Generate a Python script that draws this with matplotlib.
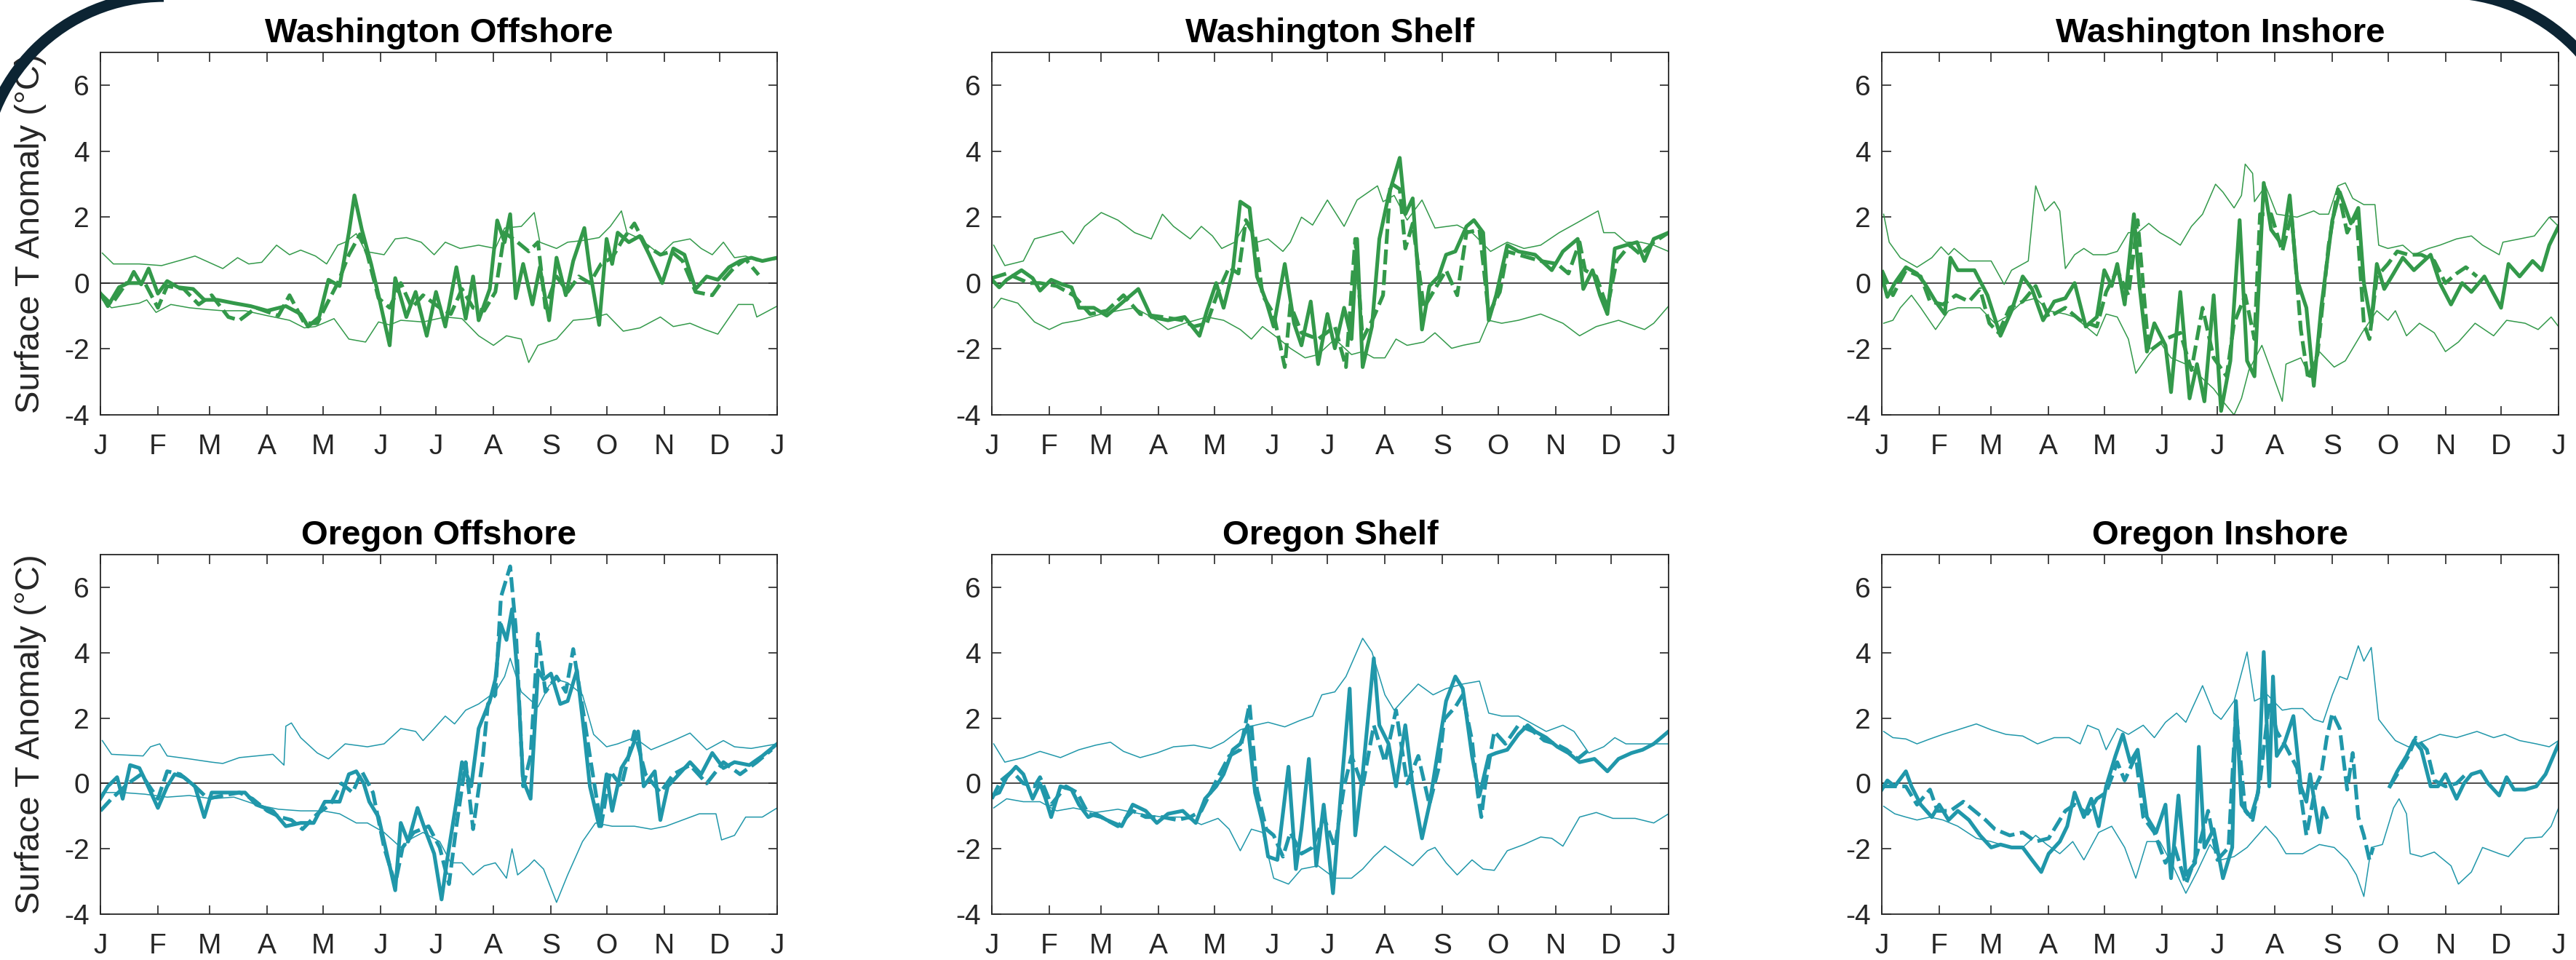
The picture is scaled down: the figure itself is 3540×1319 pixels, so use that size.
import numpy as np
import matplotlib
matplotlib.use('Agg')
import matplotlib.pyplot as plt
from matplotlib.patches import Arc

plt.rcParams['font.family'] = ['Liberation Sans', 'DejaVu Sans']

# month boundaries (day of year) and labels
month_days = [0, 31, 59, 90, 120, 151, 181, 212, 243, 273, 304, 334, 365]
month_labels = ['J', 'F', 'M', 'A', 'M', 'J', 'J', 'A', 'S', 'O', 'N', 'D', 'J']
y_ticks = [-4, -2, 0, 2, 4, 6]

nan = np.nan

# ---- Washington Offshore: (day, anomaly)
wo_hi = [(1,0.91),(7,0.58),(21,0.58),(33,0.53),(45,0.72),(51,0.82),(66,0.44),(74,0.77),(80,0.58),(87,0.63),
         (95,1.15),(102,0.86),(108,1.0),(116,0.82),(122,0.58),(128,1.15),(132,1.24),(138,1.5),(143,0.96),(153,0.86),
         (159,1.34),(165,1.38),(173,1.24),(180,0.86),(186,1.24),(194,1.05),(204,1.15),(213,1.05),(218,1.67),(227,1.72),
         (234,2.14),(237,1.24),(246,1.05),(252,1.24),(260,1.29),(269,1.38),(275,1.72),(281,2.19),(284,1.53),(291,1.34),
         (302,0.86),(309,1.24),(318,1.34),(324,1.05),(330,0.86),(336,1.24),(342,0.77),(348,0.82),(354,0.67),(365,0.72)]
wo_lo = [(1,-0.51),(6,-0.75),(21,-0.61),(25,-0.51),(30,-0.89),(38,-0.65),(48,-0.75),(57,-0.8),(66,-0.84),(78,-0.84),
         (90,-0.99),(102,-1.13),(110,-1.36),(116,-1.32),(126,-1.08),(134,-1.70),(143,-1.79),(150,-1.18),(156,-1.27),(162,-1.13),
         (174,-1.18),(186,-1.03),(195,-1.08),(204,-1.6),(212,-1.89),(219,-1.6),(227,-1.7),(231,-2.41),(236,-1.89),(246,-1.7),
         (255,-1.13),(264,-1.08),(273,-0.94),(282,-1.46),(291,-1.36),(302,-1.03),(309,-1.32),(318,-1.22),(326,-1.41),(333,-1.55),
         (344,-0.65),(352,-0.65),(354,-1.03),(365,-0.70)]
wo_solid = [(0,-0.32),(4,-0.7),(10,-0.13),(15,0.0),(18,0.34),(22,-0.04),(26,0.44),(31,-0.32),(36,0.06),(42,-0.13),
            (50,-0.18),(56,-0.51),(63,-0.51),(72,-0.61),(81,-0.7),(90,-0.84),(100,-0.7),(108,-0.94),(112,-1.32),(118,-1.03),
            (123,0.1),(129,-0.09),(134,1.53),(137,2.66),(141,1.62),(146,0.58),(150,-0.37),(156,-1.89),(159,0.15),(165,-1.03),
            (170,-0.27),(176,-1.6),(181,-0.27),(186,-1.32),(192,0.48),(197,-1.08),(201,0.2),(204,-1.13),(210,-0.18),(214,1.9),
            (218,1.24),(221,2.09),(224,-0.46),(228,0.58),(233,-0.65),(237,0.48),(242,-1.13),(246,0.77),(251,-0.37),(255,0.67),
            (261,1.67),(264,0.39),(269,-1.27),(273,1.34),(276,0.58),(279,1.53),(285,1.24),(291,1.43),(296,0.86),(303,0.0),
            (309,1.05),(315,0.86),(321,-0.18),(327,0.2),(333,0.1),(339,0.48),(345,0.67),(351,0.77),(357,0.67),(365,0.77)]
wo_dash = [(0,-0.32),(6,-0.65),(14,0.0),(24,0.0),(31,-0.75),(36,-0.09),(45,-0.18),(53,-0.65),(60,-0.37),(69,-1.03),
           (75,-1.13),(84,-0.75),(96,-0.99),(102,-0.37),(110,-1.22),(117,-1.22),(122,-0.65),(128,0.0),(134,0.86),(140,1.48),
           (144,0.86),(150,-0.46),(156,-0.75),(162,0.0),(168,-0.75),(174,-0.37),(183,-0.75),(189,-0.94),(195,-0.18),(201,-0.75),
           (207,-0.84),(213,-0.27),(218,1.53),(225,1.24),(231,0.96),(236,1.24),(240,-0.75),(246,0.2),(252,-0.27),(258,0.2),
           (264,0.0),(270,0.58),(276,0.77),(282,1.34),(288,1.81),(294,1.15),(302,0.86),(308,0.96),(314,0.67),(321,-0.27),
           (330,-0.37),(336,0.1),(342,0.48),(348,0.72),(355,0.25)]

# ---- Washington Shelf
ws_hi = [(1,1.15),(7,0.53),(17,0.67),(23,1.34),(29,1.43),(38,1.57),(44,1.19),(50,1.72),(59,2.14),(68,1.91),
         (77,1.53),(86,1.34),(92,2.09),(98,1.72),(107,1.34),(113,1.72),(119,1.43),(124,1.05),(131,1.24),(137,1.81),
         (143,1.24),(149,1.34),(157,0.96),(161,1.24),(167,2.0),(173,1.76),(181,2.52),(190,1.72),(197,2.52),(208,2.95),
         (211,2.47),(217,2.66),(224,1.91),(232,2.52),(239,1.67),(251,1.76),(259,1.53),(269,0.96),(278,1.24),(287,1.05),
         (296,1.15),(306,1.53),(315,1.81),(327,2.19),(330,1.53),(336,1.53),(342,1.24),(350,1.24),(357,1.15),(365,0.96)]
ws_lo = [(1,-0.75),(5,-0.46),(14,-0.61),(23,-1.18),(31,-1.41),(38,-1.22),(47,-1.13),(59,-0.94),(68,-0.84),(77,-0.75),
         (86,-1.03),(95,-1.41),(104,-1.22),(116,-1.03),(125,-1.13),(134,-1.41),(140,-1.7),(146,-1.32),(155,-1.7),(161,-1.98),
         (169,-2.27),(176,-2.17),(185,-1.7),(194,-2.17),(200,-2.08),(206,-2.27),(212,-2.27),(218,-1.7),(224,-1.89),(233,-1.79),
         (239,-1.51),(248,-1.98),(254,-1.89),(263,-1.79),(268,-1.13),(275,-1.22),(284,-1.13),(296,-0.94),(308,-1.22),(317,-1.6),
         (326,-1.32),(338,-1.13),(352,-1.41),(357,-1.22),(365,-0.70)]
ws_solid = [(0,0.1),(4,-0.13),(8,0.1),(16,0.39),(22,0.15),(26,-0.23),(32,0.1),(38,-0.04),(43,-0.13),(47,-0.75),
            (55,-0.75),(62,-0.99),(71,-0.56),(79,-0.18),(86,-1.03),(95,-1.13),(104,-1.03),(112,-1.6),(116,-0.84),(121,0.0),
            (125,-0.75),(130,0.39),(134,2.47),(139,2.28),(143,0.2),(148,-0.56),(152,-1.32),(158,0.58),(163,-1.22),(167,-1.89),
            (172,-0.56),(176,-2.46),(181,-0.94),(185,-1.98),(190,-0.75),(194,-1.7),(197,1.34),(200,-2.55),(205,-1.32),(209,1.34),
            (214,2.66),(220,3.8),(223,2.09),(227,2.57),(232,-1.41),(236,-0.09),(241,0.2),(245,0.86),(250,0.96),(256,1.72),
            (260,1.91),(265,1.53),(268,-1.13),(272,-0.37),(278,1.15),(284,0.96),(293,0.86),(302,0.39),(308,0.96),(316,1.34),
            (319,-0.18),(324,0.39),(328,-0.37),(332,-0.94),(336,1.05),(342,1.15),(348,1.24),(352,0.67),(357,1.34),(365,1.53)]
ws_dash = [(0,0.15),(8,0.29),(20,0.0),(26,0.0),(35,-0.09),(44,-0.37),(53,-0.94),(62,-0.84),(71,-0.37),(80,-0.94),
           (92,-1.03),(103,-1.13),(109,-1.32),(116,-1.22),(122,-0.27),(128,0.48),(133,0.29),(137,1.91),(142,1.43),(146,-0.37),
           (152,-0.94),(158,-2.55),(161,-0.65),(167,-1.51),(176,-1.7),(185,-1.32),(191,-2.55),(196,1.34),(200,-1.7),(206,-1.03),
           (211,-0.37),(215,3.04),(220,2.85),(223,1.05),(227,1.81),(233,-0.75),(239,-0.18),(245,0.39),(251,-0.37),(256,1.53),
           (263,1.62),(268,-0.94),(274,-0.27),(278,0.96),(284,0.86),(296,0.67),(305,0.58),(311,0.29),(317,1.24),(320,0.39),
           (326,0.2),(332,-0.75),(337,0.67),(344,1.15),(350,0.86),(357,1.24),(365,1.53)]

# ---- Washington Inshore
wi_hi = [(1,2.09),(4,1.24),(10,0.77),(19,0.48),(27,0.77),(32,1.1),(36,0.86),(39,1.05),(47,0.67),(59,0.67),
         (66,-0.04),(70,0.39),(79,0.67),(83,2.95),(88,2.19),(93,2.47),(96,2.19),(99,0.44),(104,0.86),(109,1.05),
         (114,0.86),(121,0.86),(127,0.96),(133,1.53),(138,1.53),(144,1.81),(150,1.53),(156,1.34),(161,1.15),(167,1.72),
         (173,2.09),(180,3.0),(184,2.76),(190,2.28),(194,2.66),(196,3.61),(200,3.33),(201,2.47),(207,2.95),(213,2.09),
         (224,2.0),(233,2.19),(236,2.09),(241,2.09),(246,2.95),(250,3.04),(254,2.57),(260,2.38),(266,2.38),(268,1.15),
         (273,1.05),(281,1.15),(287,0.86),(295,1.05),(301,1.15),(310,1.34),(318,1.43),(324,1.15),(333,0.86),(335,1.24),
         (344,1.34),(352,1.43),(360,2.0),(365,1.72)]
wi_lo = [(1,-1.22),(6,-1.13),(10,-0.75),(16,-0.37),(21,-0.75),(29,-1.41),(36,-0.84),(41,-0.75),(53,-0.75),(61,-1.22),
         (67,-1.03),(76,-0.56),(83,-0.46),(90,-0.84),(99,-0.94),(104,-1.03),(116,-1.6),(121,-0.94),(127,-1.03),(133,-1.7),
         (137,-2.74),(144,-2.17),(150,-1.79),(156,-2.27),(164,-2.46),(170,-2.74),(179,-3.21),(184,-3.59),(190,-4.0),(194,-3.5),
         (198,-2.64),(205,-1.89),(213,-3.12),(216,-3.59),(218,-2.46),(226,-2.27),(230,-2.74),(236,-2.08),(244,-2.55),(250,-2.36),
         (259,-1.51),(267,-0.84),(273,-1.13),(277,-0.84),(283,-1.6),(290,-1.22),(298,-1.51),(304,-2.08),(311,-1.79),(320,-1.22),
         (330,-1.6),(337,-1.13),(347,-1.22),(354,-1.41),(361,-1.03),(365,-1.32)]
wi_solid = [(0,0.2),(3,-0.42),(7,0.0),(13,0.48),(19,0.29),(23,0.0),(29,-0.56),(34,-0.94),(37,0.77),(41,0.39),
            (50,0.39),(57,-0.37),(64,-1.6),(70,-0.84),(76,0.2),(81,-0.18),(87,-1.13),(93,-0.56),(99,-0.46),(104,0.0),
            (110,-1.32),(116,-1.03),(120,0.39),(124,-0.09),(127,0.58),(131,-0.65),(136,2.09),(139,-0.09),(143,-2.08),(147,-1.22),
            (153,-1.89),(156,-3.31),(161,-0.27),(166,-3.5),(170,-2.46),(174,-3.59),(179,-0.37),(183,-3.88),(188,-2.36),(193,1.91),
            (197,-2.36),(201,-2.83),(206,3.04),(210,1.62),(216,1.15),(220,2.66),(224,0.1),(229,-0.75),(233,-3.12),(237,-0.75),
            (243,1.91),(247,2.76),(253,1.81),(257,2.28),(260,0.0),(264,-1.22),(267,0.58),(271,-0.18),(276,0.29),(281,0.77),
            (287,0.39),(296,0.86),(301,0.0),(307,-0.65),(313,0.0),(318,-0.27),(325,0.2),(334,-0.75),(338,0.58),(344,0.2),
            (351,0.67),(356,0.39),(360,1.15),(365,1.72)]
wi_dash = [(0,0.39),(6,-0.37),(13,0.39),(21,0.2),(26,-0.56),(33,-0.65),(40,-0.37),(47,-0.56),(53,-0.18),(58,-1.22),
           (63,-1.51),(69,-0.75),(76,-0.56),(83,-0.09),(90,-1.03),(99,-0.75),(107,-1.13),(116,-1.32),(121,-0.27),(127,0.39),
           (133,-0.37),(138,1.91),(144,-2.08),(153,-1.7),(161,-1.51),(167,-2.64),(173,-0.75),(179,-2.27),(186,-2.83),(190,-1.22),
           (196,-0.37),(201,-1.7),(204,2.09),(210,2.09),(216,0.96),(221,2.09),(226,-1.41),(230,-2.93),(235,-2.17),(241,1.15),
           (246,2.85),(251,1.53),(256,2.09),(260,-1.22),(263,-1.7),(267,0.2),(273,0.58),(278,0.96),(284,0.86),(291,0.86),
           (298,0.67),(304,0.0),(310,0.29),(315,0.48),(321,0.2)]

# ---- Oregon Offshore
oo_hi = [(1,1.31),(6,0.89),(23,0.84),(27,1.12),(32,1.21),(36,0.84),(48,0.75),(60,0.65),(66,0.61),(75,0.79),
         (84,0.84),(93,0.89),(99,0.56),(100,1.75),(103,1.85),(108,1.40),(117,0.93),(123,0.75),(132,1.21),(144,1.12),
         (153,1.21),(162,1.68),(170,1.59),(174,1.31),(180,1.68),(186,2.06),(191,1.82),(197,2.24),(204,2.43),(213,2.80),
         (218,3.27),(221,3.83),(227,2.8),(236,2.34),(242,2.99),(246,3.18),(252,3.08),(260,2.71),(266,1.5),(273,1.12),
         (279,1.21),(288,1.40),(297,1.03),(309,1.31),(318,1.54),(327,1.03),(336,1.31),(342,1.12),(351,1.07),(365,1.21)]
oo_lo = [(1,-0.28),(12,-0.28),(24,-0.33),(36,-0.42),(48,-0.37),(60,-0.47),(72,-0.42),(84,-0.65),(96,-0.79),(108,-0.84),
         (120,-0.84),(129,-0.93),(138,-1.21),(144,-1.21),(153,-1.5),(162,-1.96),(168,-1.68),(174,-1.5),(183,-1.78),(189,-2.43),
         (195,-2.43),(201,-2.8),(207,-2.52),(213,-2.43),(219,-2.9),(222,-2.0),(225,-2.8),(231,-2.52),(234,-2.34),(239,-2.62),
         (246,-3.64),(252,-2.8),(260,-1.78),(267,-1.21),(276,-1.31),(288,-1.31),(297,-1.4),(305,-1.31),(314,-1.12),(323,-0.93),
         (332,-0.93),(335,-1.73),(342,-1.59),(348,-1.03),(357,-1.03),(365,-0.75)]
oo_solid = [(0,-0.47),(4,-0.09),(9,0.19),(12,-0.47),(16,0.56),(21,0.47),(25,0.0),(31,-0.75),(36,-0.09),(40,0.28),
            (45,0.19),(51,-0.09),(56,-1.03),(60,-0.28),(69,-0.28),(78,-0.28),(84,-0.65),(93,-0.84),(100,-1.31),(108,-1.21),
            (115,-1.21),(121,-0.56),(129,-0.56),(134,0.28),(138,0.37),(142,0.0),(145,-0.56),(150,-1.03),(153,-1.78),(156,-2.52),
            (159,-3.27),(162,-1.21),(166,-1.78),(171,-0.75),(175,-1.4),(180,-2.15),(184,-3.55),(187,-2.34),(192,-0.56),(195,0.65),
            (200,-0.09),(204,1.68),(210,2.52),(213,3.18),(216,4.86),(219,4.39),(222,5.33),(225,3.27),(228,0.09),(232,-0.47),
            (236,3.46),(239,3.18),(243,3.36),(248,2.43),(252,2.52),(257,3.46),(261,1.5),(264,-0.09),(269,-1.31),(273,0.28),
            (276,-0.84),(281,0.47),(285,0.84),(290,1.59),(293,-0.09),(299,0.37),(302,-1.12),(306,-0.09),(312,0.28),(318,0.65),
            (324,0.28),(330,0.93),(336,0.47),(342,0.65),(350,0.56),(357,0.84),(365,1.21)]
oo_dash = [(0,-0.84),(6,-0.47),(15,0.0),(22,0.28),(31,-0.47),(36,0.37),(43,0.28),(51,-0.09),(58,-0.47),(66,-0.37),
           (75,-0.28),(82,-0.47),(90,-0.84),(97,-1.03),(103,-1.12),(109,-1.4),(117,-0.93),(124,-0.65),(130,0.0),(136,-0.28),
           (141,0.37),(147,-0.28),(153,-1.96),(159,-3.08),(163,-1.96),(169,-1.5),(177,-1.31),(183,-1.96),(188,-3.08),(192,-1.31),
           (197,0.65),(201,-1.4),(206,0.65),(209,2.43),(213,2.71),(216,5.7),(221,6.64),(224,4.77),(228,-0.09),(232,0.84),
           (236,4.58),(240,2.8),(246,3.27),(251,2.8),(255,4.11),(260,2.34),(264,0.84),(270,-1.31),(275,0.37),(281,-0.09),
           (288,1.59),(294,0.28),(302,-0.28),(309,0.28),(318,0.56),(327,0.0),(336,0.65),(345,0.28),(354,0.65),(362,1.03)]

# ---- Oregon Shelf
os_hi = [(1,1.21),(7,0.65),(17,0.79),(26,0.98),(37,0.79),(47,1.03),(56,1.17),(64,1.26),(71,0.98),(80,0.79),
         (89,0.93),(98,1.12),(109,1.17),(118,1.07),(125,1.26),(134,1.64),(142,1.78),(149,1.87),(158,1.73),(166,1.92),
         (173,2.06),(178,2.71),(185,2.8),(191,3.27),(200,4.44),(205,4.02),(212,2.71),(217,2.24),(223,2.62),(230,3.04),
         (238,2.71),(245,2.9),(254,3.04),(263,3.13),(268,2.15),(275,2.06),(284,2.06),(293,1.78),(299,1.59),(308,1.78),
         (314,1.59),(322,0.93),(330,1.12),(336,1.40),(342,1.21),(354,1.21),(365,1.21)]
os_lo = [(1,-0.75),(8,-0.47),(17,-0.56),(26,-0.56),(35,-0.84),(44,-0.75),(56,-0.89),(68,-0.79),(80,-0.93),(92,-1.03),
         (104,-1.03),(113,-1.26),(122,-1.07),(128,-1.4),(134,-2.06),(140,-1.4),(146,-1.5),(152,-2.9),(160,-3.08),(167,-2.62),
         (176,-2.52),(185,-2.9),(194,-2.9),(200,-2.62),(206,-2.24),(212,-1.92),(220,-2.24),(227,-2.52),(235,-2.06),(239,-1.96),
         (245,-2.43),(251,-2.8),(259,-2.34),(265,-2.62),(271,-2.66),(278,-2.06),(287,-1.87),(296,-1.64),(302,-1.68),(308,-1.92),
         (317,-1.03),(326,-0.89),(335,-1.07),(347,-1.07),(357,-1.21),(365,-0.93)]
os_solid = [(0,-0.37),(4,-0.28),(8,0.19),(13,0.51),(17,0.28),(22,-0.47),(26,0.0),(29,-0.47),(32,-1.03),(37,-0.09),
            (43,-0.19),(47,-0.65),(52,-1.03),(56,-0.93),(62,-1.12),(70,-1.31),(76,-0.65),(83,-0.84),(89,-1.21),(95,-0.93),
            (103,-0.84),(110,-1.21),(115,-0.47),(121,-0.09),(125,0.28),(130,1.03),(134,1.21),(138,1.78),(142,-0.28),(146,-1.21),
            (149,-2.24),(154,-2.34),(160,0.51),(164,-2.62),(167,-1.4),(171,0.75),(175,-2.52),(179,-0.65),(184,-3.36),(188,-0.47),
            (193,2.9),(196,-1.59),(200,0.28),(206,3.83),(209,1.78),(214,1.21),(218,-0.09),(223,1.78),(227,-0.09),(232,-1.68),
            (236,-0.65),(241,1.12),(245,2.52),(250,3.27),(254,2.9),(259,0.84),(263,-0.37),(268,0.84),(272,0.93),(278,1.03),
            (284,1.5),(289,1.78),(293,1.59),(299,1.40),(305,1.12),(311,0.93),(317,0.65),(325,0.75),(332,0.37),(338,0.75),
            (345,0.93),(351,1.03),(357,1.21),(365,1.59)]
os_dash = [(0,-0.47),(5,0.09),(11,0.37),(17,0.0),(23,-0.09),(26,0.19),(32,-0.65),(40,-0.09),(46,-0.28),(52,-0.93),
           (59,-1.03),(68,-1.31),(76,-0.84),(83,-1.03),(92,-1.03),(100,-1.12),(107,-1.03),(113,-0.84),(122,0.19),(128,0.84),
           (134,1.03),(139,2.43),(143,-0.19),(148,-1.4),(152,-1.59),(157,-2.24),(161,-1.5),(167,-2.15),(173,-1.96),(179,-1.03),
           (185,-1.96),(190,-0.09),(194,0.84),(200,-0.09),(206,1.78),(212,0.65),(218,2.24),(224,0.0),(230,0.84),(236,-0.65),
           (241,0.47),(244,1.96),(250,2.34),(254,2.71),(259,1.31),(262,-0.28),(264,-1.03),(266,-0.09),(271,1.59),(277,1.21),
           (284,1.78),(292,1.59),(298,1.31),(304,1.21),(310,1.03),(316,0.75),(322,1.03)]

# ---- Oregon Inshore
oi_hi = [(1,1.59),(6,1.40),(13,1.36),(19,1.21),(26,1.36),(33,1.5),(41,1.64),(51,1.82),(59,1.64),(67,1.5),
         (76,1.45),(84,1.21),(93,1.40),(101,1.40),(107,1.21),(111,1.78),(117,1.64),(121,1.03),(127,1.68),(133,1.5),
         (141,1.78),(147,1.40),(153,1.87),(159,2.15),(164,1.87),(173,2.99),(179,2.15),(183,1.96),(190,2.52),(197,4.02),
         (201,2.52),(208,2.71),(216,2.24),(221,2.29),(227,2.29),(233,1.96),(238,1.87),(243,2.71),(247,3.27),(251,3.18),
         (257,4.21),(260,3.74),(264,4.16),(268,1.96),(273,1.59),(277,1.31),(284,1.12),(293,1.31),(301,1.5),(310,1.40),
         (321,1.59),(330,1.40),(336,1.5),(344,1.31),(353,1.21),(360,1.12),(365,1.31)]
oi_lo = [(1,-0.70),(7,-0.93),(13,-1.03),(19,-1.12),(26,-1.03),(33,-1.12),(41,-1.31),(51,-1.68),(59,-1.78),(67,-1.92),
         (76,-1.96),(83,-1.59),(89,-1.87),(96,-2.15),(103,-1.78),(109,-2.34),(117,-1.5),(124,-1.31),(131,-1.96),(137,-2.9),
         (143,-1.78),(150,-1.78),(157,-2.52),(164,-3.36),(170,-2.71),(177,-1.87),(183,-2.34),(190,-2.24),(197,-1.96),(207,-1.31),
         (213,-1.68),(218,-2.15),(227,-2.15),(236,-1.87),(244,-1.96),(251,-2.34),(256,-2.8),(260,-3.46),(264,-1.96),(270,-1.87),
         (276,-0.75),(279,-0.47),(283,-0.93),(285,-2.15),(291,-2.24),(298,-2.1),(307,-2.52),(311,-3.08),(318,-2.71),(324,-1.96),
         (333,-2.15),(338,-2.24),(347,-1.68),(356,-1.64),(361,-1.31),(365,-0.75)]
oi_solid = [(0,-0.19),(3,0.09),(7,-0.09),(13,0.37),(16,-0.09),(21,-0.65),(27,-1.03),(31,-0.65),(36,-1.12),(41,-0.84),
            (47,-1.12),(53,-1.59),(59,-1.96),(64,-1.87),(70,-1.96),(76,-1.96),(81,-2.34),(86,-2.71),(90,-2.15),(96,-1.78),
            (100,-1.31),(104,-0.28),(109,-1.03),(113,-0.47),(117,-1.31),(121,-0.09),(126,0.84),(130,1.5),(134,0.65),(138,1.03),
            (143,-1.03),(148,-1.5),(153,-0.65),(156,-2.9),(160,-0.37),(164,-2.8),(169,-2.43),(171,1.12),(174,-1.96),(179,-1.4),
            (184,-2.9),(189,-1.96),(191,2.52),(194,-0.65),(199,-1.03),(203,-0.28),(206,4.02),(209,-0.09),(211,3.27),(213,0.84),
            (217,1.21),(222,2.06),(226,-0.09),(229,-0.56),(231,0.28),(236,-1.5),(238,-0.75),(240,-1.03),(nan,nan),(274,-0.09),
            (278,0.37),(283,0.84),(287,1.31),(291,1.03),(296,-0.09),(300,-0.09),(304,0.28),(310,-0.47),(314,0.0),(318,0.28),
            (323,0.37),(327,0.0),(333,-0.37),(337,0.19),(341,-0.19),(347,-0.19),(353,-0.09),(358,0.28),(365,1.21)]
oi_dash = [(0,-0.09),(7,-0.09),(13,-0.09),(19,-0.65),(26,-0.19),(30,-0.84),(37,-0.84),(44,-0.56),(50,-0.84),(56,-1.12),
           (61,-1.4),(69,-1.59),(76,-1.5),(83,-1.78),(90,-1.68),(99,-0.84),(104,-0.65),(111,-0.93),(116,-0.47),(121,-0.28),
           (127,0.65),(131,0.09),(137,0.84),(141,-1.03),(147,-1.5),(153,-2.43),(158,-1.96),(164,-3.08),(170,-2.15),(176,-0.84),
           (181,-2.34),(187,-1.96),(191,2.24),(196,-0.84),(200,-1.12),(204,0.09),(209,2.52),(213,1.59),(218,1.12),(224,0.47),
           (229,-1.59),(234,-0.09),(237,0.28),(240,1.40),(243,2.15),(247,1.68),(251,-0.19),(254,0.93),(257,-1.03),(260,-1.59),
           (263,-2.34),(265,-1.96),(nan,nan),(274,-0.09),(278,0.28),(284,0.84),(288,1.40),(294,1.03),(298,0.09),(304,-0.09),
           (310,0.0),(315,0.28)]

GREEN = '#33994a'
TEAL = '#2097aa'

panels = [
    ('Washington Offshore', GREEN, wo_hi, wo_lo, wo_solid, wo_dash),
    ('Washington Shelf', GREEN, ws_hi, ws_lo, ws_solid, ws_dash),
    ('Washington Inshore', GREEN, wi_hi, wi_lo, wi_solid, wi_dash),
    ('Oregon Offshore', TEAL, oo_hi, oo_lo, oo_solid, oo_dash),
    ('Oregon Shelf', TEAL, os_hi, os_lo, os_solid, os_dash),
    ('Oregon Inshore', TEAL, oi_hi, oi_lo, oi_solid, oi_dash),
]

W, H = 3541, 1319
fig = plt.figure(figsize=(W / 100, H / 100), dpi=100)
fig.patch.set_facecolor('white')

col_left = [138, 1363, 2586]
col_width = 930
row_span = [(72, 570), (762, 1256)]
ink = '#262626'

for i, (title, color, hi, lo, solid, dash) in enumerate(panels):
    r, c = divmod(i, 3)
    top, bot = row_span[r]
    ax = fig.add_axes([col_left[c] / W, 1 - bot / H, col_width / W, (bot - top) / H])
    ax.axhline(0, color='#3c3c3c', lw=1.3, zorder=1)

    for pts, lw, ls in [(hi, 1.1, '-'), (lo, 1.1, '-'),
                        (solid, 3.7, '-'), (dash, 3.7, (0, (4, 1.5)))]:
        d, v = np.array(pts, dtype=float).T
        ax.plot(d, v, color=color, lw=lw, ls=ls, zorder=2,
                solid_joinstyle='round', dash_joinstyle='round')

    ax.set_xlim(0, 365)
    ax.set_ylim(-4, 7)
    ax.set_xticks(month_days)
    ax.set_xticklabels(month_labels)
    ax.set_yticks(y_ticks)
    ax.set_yticklabels([str(t) for t in y_ticks])
    for s in ax.spines.values():
        s.set_color(ink)
        s.set_linewidth(1.3)
    ax.tick_params(direction='in', top=True, right=True, length=9, width=1.2,
                   color=ink, labelcolor=ink, labelsize=28)
    ax.tick_params(axis='x', pad=19)
    ax.tick_params(axis='y', pad=11)
    ax.set_title(title, fontsize=34, fontweight='bold', pad=10, color='black')
    if c == 0:
        ax.set_ylabel('Surface T Anomaly (°C)', fontsize=34, color=ink)
        ax.yaxis.set_label_coords(-0.08, 0.5)

# rounded slide frame peeking in at the top corners
ov = fig.add_axes([0, 0, 1, 1])
ov.set_xlim(0, W)
ov.set_ylim(H, 0)
ov.axis('off')
ov.add_patch(Arc((225, 245), 2 * 250, 2 * 250, theta1=180, theta2=270,
                 color='#0c2433', lw=11))
ov.add_patch(Arc((3360, 240), 2 * 250, 2 * 250, theta1=270, theta2=360,
                 color='#0c2433', lw=11))

fig.savefig('out.png', dpi=100, facecolor='white')
